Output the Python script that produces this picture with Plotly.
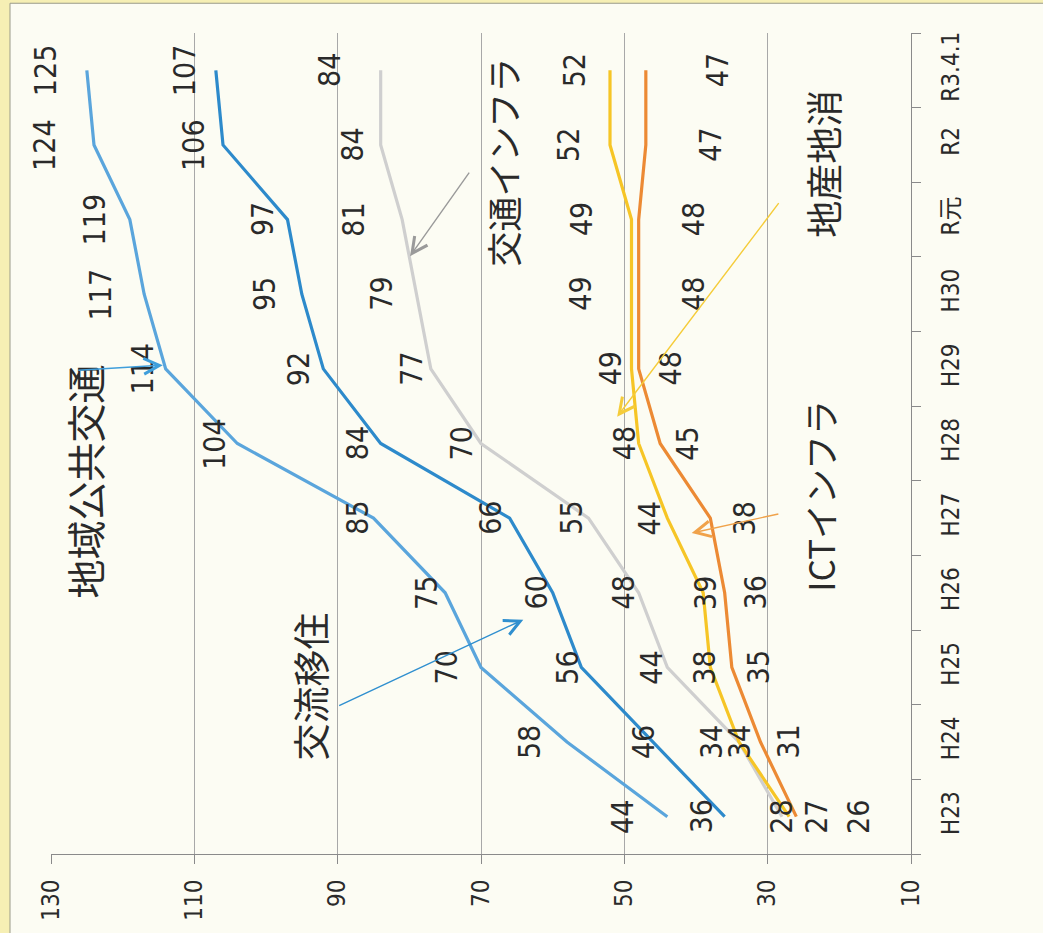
import plotly.graph_objects as go

categories = ["H23", "H24", "H25", "H26", "H27", "H28", "H29", "H30", "R元", "R2", "R3.4.1"]

chiiki_koukyou_koutsu = [44, 58, 70, 75, 85, 104, 114, 117, 119, 124, 125]
kouryu_iju = [36, 46, 56, 60, 66, 84, 92, 95, 97, 106, 107]
koutsu_infra = [28, 34, 44, 48, 55, 70, 77, 79, 81, 84, 84]
chisan_chisho = [27, 34, 38, 39, 44, 48, 49, 49, 49, 52, 52]
ict_infra = [26, 31, 35, 36, 38, 45, 48, 48, 48, 47, 47]

value_ticks = [130, 110, 90, 70, 50, 30, 10]

NUM_FONT = "Liberation Sans Narrow, DejaVu Sans Condensed, Noto Sans CJK JP, sans-serif"
JP_FONT = "Noto Sans CJK JP, Liberation Sans Narrow, sans-serif"
TEXT_COLOR = "#2a2a2a"

# style: series draw order, colours, label offsets (pixels)
series = [
    ("交通インフラ", koutsu_infra, "#cfcfcf", [0, -28, -16, -15, -17, -20, -19, -35, -49, -28, -51]),
    ("ICTインフラ", ict_infra, "#ec8a34", [62, 28, 27, 31, 34, 27, 32, 55, 55, 65, 71]),
    ("地産地消", chisan_chisho, "#f6c526", [28, 0, -6, 3, -18, -14, -21, -51, -50, -41, -36]),
    ("地域公共交通", chiiki_koukyou_koutsu, "#5aa5dc", [-45, -38, -35, -18, -16, -23, -23, -44, -35, -49, -42]),
    ("交流移住", kouryu_iju, "#2d8acb", [-23, -10, -14, -16, -20, -23, -24, -38, -25, -29, -32]),
]

fig = go.Figure()
annotations = []
for name, vals, color, shifts in series:
    fig.add_trace(go.Scatter(
        x=vals, y=categories, mode="lines", name=name,
        line=dict(color=color, width=3.2), showlegend=False,
    ))
    for v, c, s in zip(vals, categories, shifts):
        annotations.append(dict(
            x=v, y=c, xref="x", yref="y", text=str(v), showarrow=False,
            textangle=-90, xshift=s, font=dict(family=NUM_FONT, size=30, color=TEXT_COLOR),
        ))

# series name labels: (text, value pos, category index pos, font size)
name_labels = [
    ("地域公共交通", 125.4, 4.49, 39),
    ("交流移住", 93.8, 1.75, 37),
    ("交通インフラ", 67.0, 8.77, 35),
    ("地産地消", 22.4, 8.75, 37),
    ("ICTインフラ", 22.7, 4.30, 35),
]
for text, xv, yv, fs in name_labels:
    annotations.append(dict(
        x=xv, y=yv, xref="x", yref="y", text=text, showarrow=False, textangle=-90,
        font=dict(family=JP_FONT, size=fs, color=TEXT_COLOR),
    ))

# arrows: (tail_x, tail_y, head_x, head_y, colour)
arrows = [
    (126.4, 5.98, 114.4, 6.05, "#3f9edb"),
    (90.0, 1.48, 64.1, 2.64, "#2f8fcf"),
    (71.5, 8.65, 79.9, 7.51, "#9a9a9a"),
    (28.3, 8.24, 51.0, 5.36, "#f5cc3a"),
    (28.3, 4.06, 40.6, 3.80, "#f0a24a"),
]
for tx, ty, hx, hy, col in arrows:
    annotations.append(dict(
        x=hx, y=hy, xref="x", yref="y", ax=tx, ay=ty, axref="x", ayref="y",
        text="", showarrow=True, arrowhead=5, arrowsize=2.2, arrowwidth=1.4,
        arrowcolor=col, standoff=0, startstandoff=0,
    ))

W, H = 1043, 933
L, R, T, B = 51, 911, 33, 861
pw, ph = R - L, B - T

def px_x(p):
    return (p - L) / pw

def px_y(p):
    return (B - p) / ph

shapes = [dict(
    type="rect", xref="paper", yref="paper", layer="below",
    x0=px_x(10), x1=px_x(1060), y0=px_y(960), y1=px_y(3),
    fillcolor="#fcfcf3", line=dict(color="#9a9a8a", width=1),
)]

fig.update_layout(
    width=W, height=H,
    margin=dict(l=L, r=W - R, t=T, b=H - B, pad=0),
    paper_bgcolor="#f6efb4",
    plot_bgcolor="rgba(0,0,0,0)",
    annotations=annotations,
    shapes=shapes,
    showlegend=False,
    xaxis=dict(
        range=[130, 10], tickvals=value_ticks, ticktext=[str(v) for v in value_ticks],
        tickangle=-90, ticks="outside", ticklen=9, tickcolor="#8a8a8a",
        showline=True, linecolor="#8a8a8a", linewidth=1,
        showgrid=True, gridcolor="#a8a8a8", gridwidth=1,
        zeroline=False, fixedrange=True, ticklabelstandoff=6,
        tickfont=dict(family=NUM_FONT, size=24, color=TEXT_COLOR),
    ),
    yaxis=dict(
        type="category", categoryorder="array", categoryarray=categories,
        range=[-0.5, len(categories) - 0.5], side="right",
        tickson="boundaries", ticks="outside", ticklen=9, tickcolor="#8a8a8a",
        showline=True, linecolor="#8a8a8a", linewidth=1,
        showgrid=False, zeroline=False, tickangle=-90, ticklabelstandoff=18,
        tickfont=dict(family=NUM_FONT, size=24, color=TEXT_COLOR),
    ),
)

fig.write_html("out.html")
